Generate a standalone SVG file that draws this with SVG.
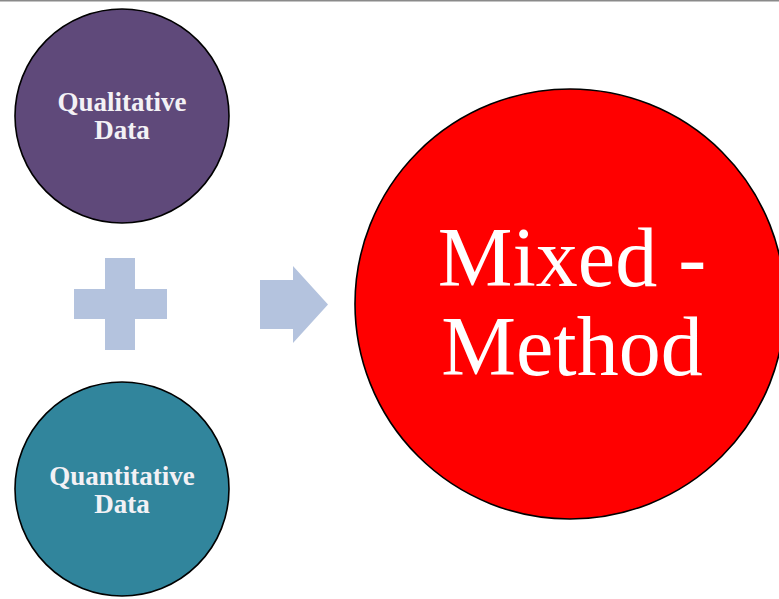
<svg xmlns="http://www.w3.org/2000/svg" width="779" height="599" viewBox="0 0 779 599">
  <style>
    .node { stroke: #000; stroke-width: 1.6; }
    .label { font-family: "Liberation Serif", "Times New Roman", serif; font-weight: bold; font-size: 27px; fill: #f3f1f5; text-anchor: middle; }
    .big { font-family: "Liberation Serif", "Times New Roman", serif; font-size: 84px; fill: #ffffff; text-anchor: middle; }
    .shape { fill: #b4c3de; }
  </style>
  <rect x="0" y="0" width="779" height="599" fill="#ffffff"/>
  <rect x="0" y="0" width="779" height="1.5" fill="#8a8a8a"/>

  <g id="qualitative">
    <circle class="node" cx="122" cy="116" r="107" fill="#5f497a"/>
    <text class="label" x="122" y="111">Qualitative</text>
    <text class="label" x="122" y="139">Data</text>
  </g>

  <g id="plus">
    <path class="shape" d="M105 258H135V289H167V319H135V350H105V319H74V289H105Z"/>
  </g>

  <g id="quantitative">
    <circle class="node" cx="122" cy="489" r="107" fill="#31859c"/>
    <text class="label" x="122" y="485">Quantitative</text>
    <text class="label" x="122" y="513">Data</text>
  </g>

  <g id="connectors">
    <path class="shape" d="M260 280H293V266L328 304.5L293 343V329H260Z"/>
  </g>

  <g id="mixed-method">
    <circle class="node" cx="570" cy="304" r="215" fill="#ff0000"/>
    <text class="big" x="572" y="286">Mixed -</text>
    <text class="big" x="572" y="375">Method</text>
  </g>
</svg>
